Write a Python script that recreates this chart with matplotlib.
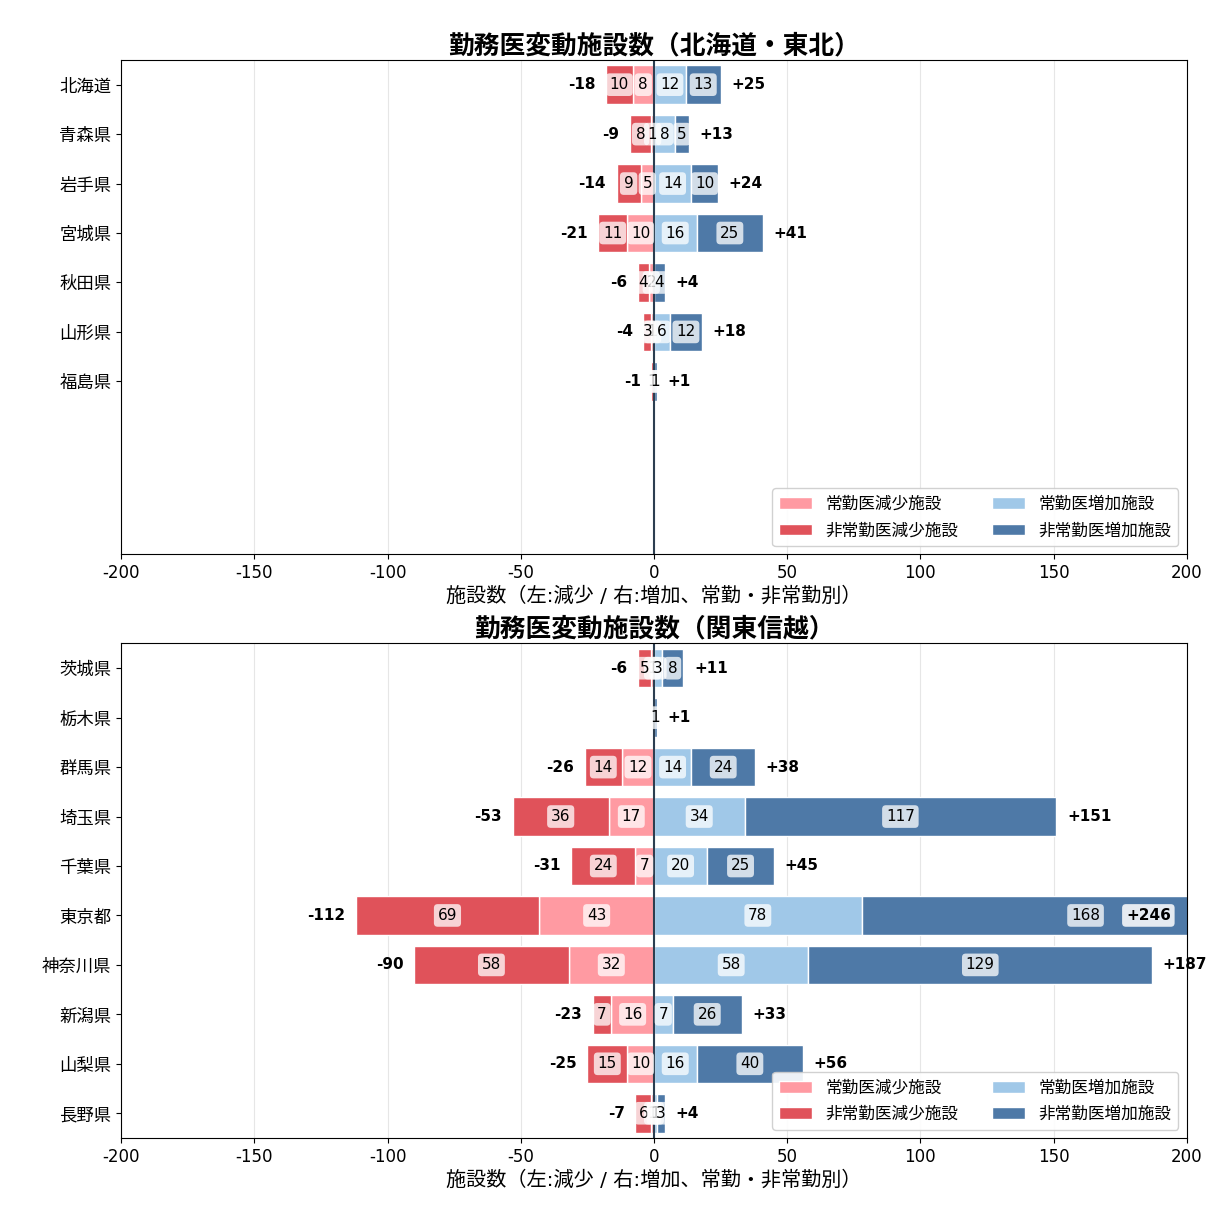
import matplotlib
matplotlib.use("Agg")
import matplotlib.pyplot as plt
import numpy as np

plt.rcParams['font.family'] = ['DejaVu Sans', 'Noto Sans CJK JP']
plt.rcParams['axes.unicode_minus'] = False

# 北海道・東北
pref_t = ["北海道", "青森県", "岩手県", "宮城県", "秋田県", "山形県", "福島県"]
jokin_down_t = [8, 1, 5, 10, 2, 1, 0]
hijokin_down_t = [10, 8, 9, 11, 4, 3, 1]
jokin_up_t = [12, 8, 14, 16, 0, 6, 0]
hijokin_up_t = [13, 5, 10, 25, 4, 12, 1]

# 関東信越
pref_k = ["茨城県", "栃木県", "群馬県", "埼玉県", "千葉県", "東京都", "神奈川県", "新潟県", "山梨県", "長野県"]
jokin_down_k = [1, 0, 12, 17, 7, 43, 32, 16, 10, 1]
hijokin_down_k = [5, 0, 14, 36, 24, 69, 58, 7, 15, 6]
jokin_up_k = [3, 0, 14, 34, 20, 78, 58, 7, 16, 1]
hijokin_up_k = [8, 1, 24, 117, 25, 168, 129, 26, 40, 3]

c_jd = "#FF9AA2"
c_hd = "#E0525A"
c_ju = "#A0C8E8"
c_hu = "#4E79A7"
XMAX = 200


def draw(ax, prefs, jd, hd, ju, hu, title):
    y = np.arange(len(prefs))
    jd = np.array(jd); hd = np.array(hd); ju = np.array(ju); hu = np.array(hu)
    h = 0.78
    ax.barh(y, -jd, height=h, color=c_jd, edgecolor="white", linewidth=1, label="常勤医減少施設")
    ax.barh(y, -hd, left=-jd, height=h, color=c_hd, edgecolor="white", linewidth=1, label="非常勤医減少施設")
    ax.barh(y, ju, height=h, color=c_ju, edgecolor="white", linewidth=1, label="常勤医増加施設")
    ax.barh(y, hu, left=ju, height=h, color=c_hu, edgecolor="white", linewidth=1, label="非常勤医増加施設")
    box = dict(boxstyle="round,pad=0.25", facecolor="white", edgecolor="none", alpha=0.75)
    for i in range(len(prefs)):
        if jd[i] > 0:
            ax.text(-jd[i] / 2, i, str(jd[i]), ha="center", va="center", fontsize=11, bbox=box)
        if hd[i] > 0:
            ax.text(-jd[i] - hd[i] / 2, i, str(hd[i]), ha="center", va="center", fontsize=11, bbox=box)
        if ju[i] > 0:
            ax.text(ju[i] / 2, i, str(ju[i]), ha="center", va="center", fontsize=11, bbox=box)
        if hu[i] > 0:
            ax.text(ju[i] + hu[i] / 2, i, str(hu[i]), ha="center", va="center", fontsize=11, bbox=box)
        down = jd[i] + hd[i]
        up = ju[i] + hu[i]
        if down > 0:
            ax.text(-down - 4, i, f"-{down}", ha="right", va="center", fontsize=11, fontweight="bold")
        if up > 0:
            if up + 4 > XMAX:
                ax.text(XMAX * 0.97, i, f"+{up}", ha="right", va="center", fontsize=11,
                        fontweight="bold", bbox=dict(boxstyle="round,pad=0.25", facecolor="white",
                                                     edgecolor="none", alpha=0.85))
            else:
                ax.text(up + 4, i, f"+{up}", ha="left", va="center", fontsize=11, fontweight="bold")
    ax.axvline(0, color="#2C3E50", linewidth=1.5)
    ax.set_yticks(y)
    ax.set_yticklabels(prefs, fontsize=12.5)
    ax.set_ylim(9.5, -0.5)
    ax.set_xlim(-XMAX, XMAX)
    ax.set_xticks(np.arange(-200, 201, 50))
    ax.tick_params(axis="x", labelsize=12)
    ax.grid(axis="x", color="#e6e6e6", linewidth=0.8)
    ax.set_axisbelow(True)
    ax.set_xlabel("施設数（左:減少 / 右:増加、常勤・非常勤別）", fontsize=14.5, labelpad=3)
    ax.set_title(title, fontsize=18.5, fontweight="bold", pad=5)
    ax.legend(loc="lower right", ncol=2, fontsize=12, framealpha=0.9)


fig, axes = plt.subplots(2, 1, figsize=(12.11, 12.11), dpi=100)
plt.subplots_adjust(left=0.1, right=0.98, top=0.9505, bottom=0.0603, hspace=0.18)
draw(axes[0], pref_t, jokin_down_t, hijokin_down_t, jokin_up_t, hijokin_up_t, "勤務医変動施設数（北海道・東北）")
draw(axes[1], pref_k, jokin_down_k, hijokin_down_k, jokin_up_k, hijokin_up_k, "勤務医変動施設数（関東信越）")
fig.savefig("out.png", dpi=100)
